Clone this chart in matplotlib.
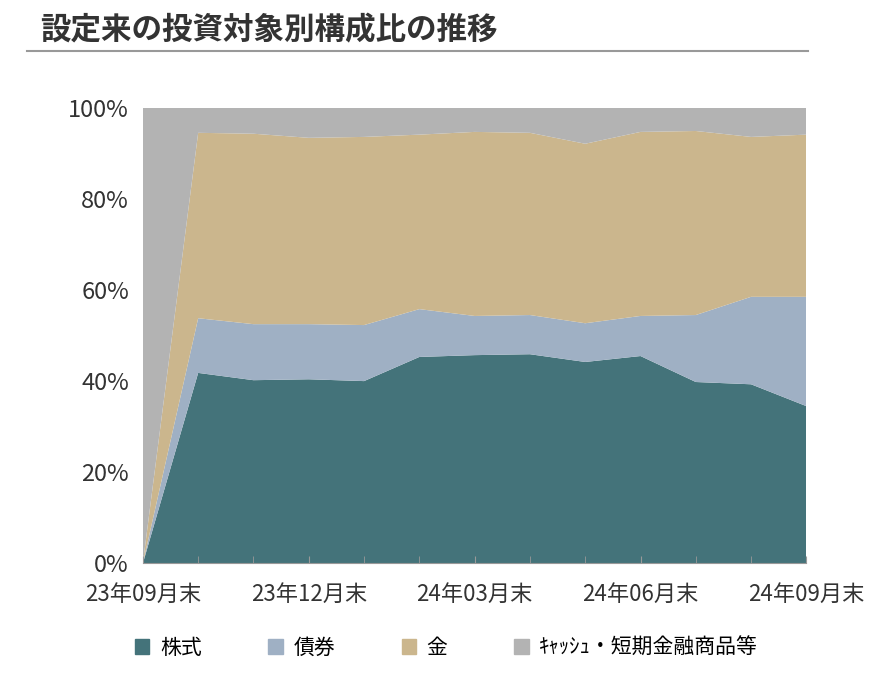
import matplotlib.pyplot as plt
from matplotlib.patches import Patch
import numpy as np

plt.rcParams['font.family'] = 'Noto Sans CJK JP'

months = ['23年09月末', '23年10月末', '23年11月末', '23年12月末', '24年01月末', '24年02月末', '24年03月末',
          '24年04月末', '24年05月末', '24年06月末', '24年07月末', '24年08月末', '24年09月末']
stock = [0, 41.8, 40.2, 40.4, 40.0, 45.3, 45.7, 45.9, 44.2, 45.5, 39.8, 39.3, 34.5]
bond = [0, 12.0, 12.3, 12.1, 12.3, 10.5, 8.6, 8.6, 8.5, 8.8, 14.7, 19.2, 24.0]
gold = [0, 40.7, 41.8, 40.9, 41.3, 38.3, 40.4, 40.0, 39.4, 40.4, 40.4, 35.1, 35.6]
cash = [100 - s - b - g for s, b, g in zip(stock, bond, gold)]

colors = ['#44737a', '#9fb0c4', '#cbb68d', '#b3b3b3']
names = ['株式', '債券', '金', 'ｷｬｯｼｭ・短期金融商品等']

fig = plt.figure(figsize=(8.93, 6.82), dpi=100)
ax = fig.add_axes([0.160, 0.174, 0.743, 0.668])
x = np.arange(len(months))
ax.stackplot(x, stock, bond, gold, cash, colors=colors, linewidth=0)
ax.set_xlim(0, len(months) - 1)
ax.set_ylim(0, 100)
ax.set_yticks(range(0, 101, 20))
ax.set_yticklabels([f'{v}%' for v in range(0, 101, 20)], fontsize=17, color='#333333')
ax.set_xticks(x[::3])
ax.set_xticklabels(months[::3], fontsize=16, color='#333333')
ax.set_xticks(x, minor=True)
ax.tick_params(axis='x', which='both', direction='in', length=5, color='#999999', pad=14)
ax.tick_params(axis='y', length=0, pad=10)
for s in ['top', 'right', 'left']:
    ax.spines[s].set_visible(False)
ax.spines['bottom'].set_color('#999999')

fig.text(0.045, 0.955, '設定来の投資対象別構成比の推移', fontsize=22, fontweight='bold',
         color='#333333', va='center')
fig.add_artist(plt.Line2D([0.03, 0.905], [0.925, 0.925], color='#999999', lw=1.5))

handles = [Patch(color=c) for c in colors]
fig.legend(handles, names, loc='center', bbox_to_anchor=(0.5, 0.05), ncol=4, frameon=False,
           fontsize=15, handlelength=0.7, handleheight=0.7, columnspacing=3.2, handletextpad=0.5)
fig.savefig('out.png')
